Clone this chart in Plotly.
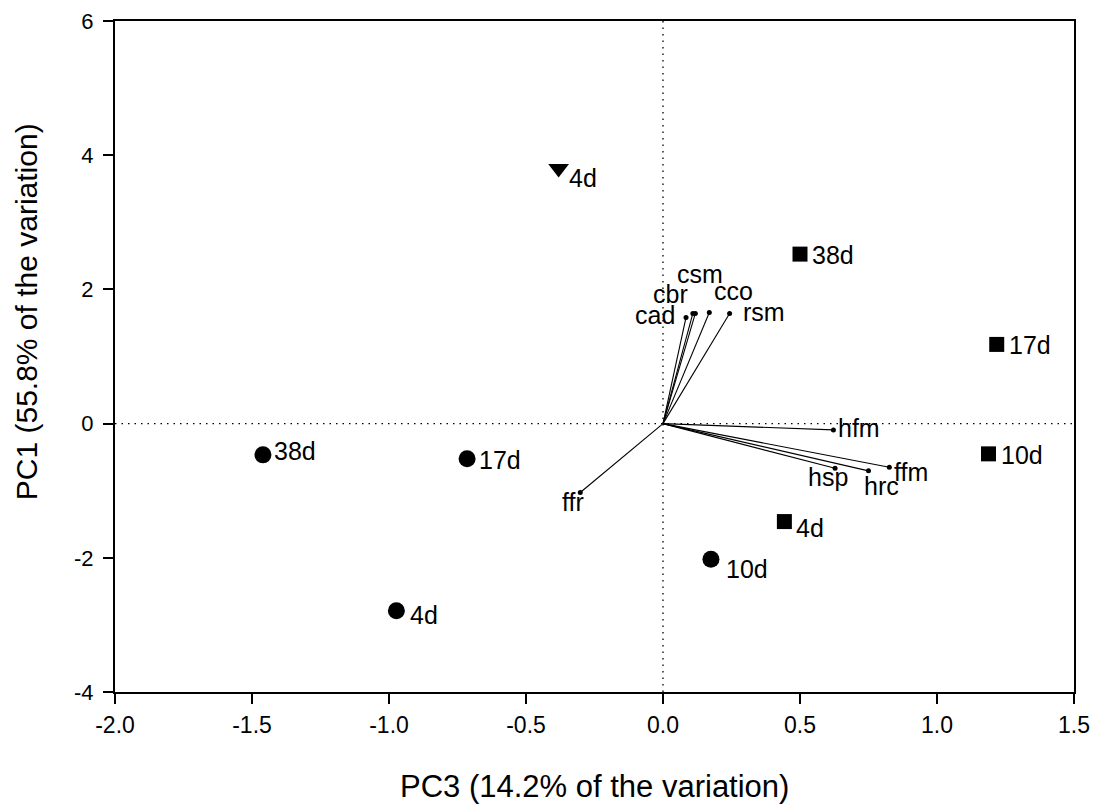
import plotly.graph_objects as go

# ---- data ----
circle_labels = ["38d", "17d", "4d", "10d"]
circle_x = [-1.460, -0.715, -0.973, 0.175]
circle_y = [-0.466, -0.525, -2.788, -2.020]

square_labels = ["38d", "17d", "10d", "4d"]
square_x = [0.500, 1.218, 1.188, 0.443]
square_y = [2.526, 1.180, -0.451, -1.46]

triangle_labels = ["4d"]
triangle_x = [-0.381]
triangle_y = [3.80]

vector_labels = ["cad", "cbr", "csm", "cco", "rsm", "hfm", "ffm", "hrc", "hsp", "ffr"]
vector_x = [0.084, 0.109, 0.118, 0.169, 0.243, 0.622, 0.826, 0.750, 0.628, -0.302]
vector_y = [1.582, 1.642, 1.642, 1.657, 1.642, -0.094, -0.651, -0.704, -0.666, -1.027]

x_ticks = [-2.0, -1.5, -1.0, -0.5, 0.0, 0.5, 1.0, 1.5]
y_ticks = [-4, -2, 0, 2, 4, 6]
x_title = "PC3 (14.2% of the variation)"
y_title = "PC1 (55.8% of the variation)"

# ---- style (label offsets in px) ----
circle_off = [(9, 4), (10, -1), (12, -4), (13, -10)]
square_off = [(10, -1), (10, -1), (10, -1), (10, -6)]
triangle_off = [(8, -9)]
vector_off = [("right", -9, 2), ("center", -22, 19), ("center", 5, 39), ("center", 24, 21),
              ("left", 11, 1), ("left", 3, 2), ("left", 3, -5), ("center", 13, -15),
              ("center", -7, -9), ("center", -7, -9)]

FONT = "Liberation Sans, Arial, sans-serif"
LBL = 25

# page has an 8px body margin: figure is inset so the plot area sits where the reference has it
W, H = 1091, 796

fig = go.Figure()

for vx, vy in zip(vector_x, vector_y):
    fig.add_trace(go.Scatter(x=[0, vx], y=[0, vy], mode="lines",
                             line=dict(color="black", width=1.1),
                             hoverinfo="skip", showlegend=False))
fig.add_trace(go.Scatter(x=vector_x, y=vector_y, mode="markers",
                         marker=dict(color="black", size=5), showlegend=False))

fig.add_trace(go.Scatter(x=circle_x, y=circle_y, mode="markers",
                         marker=dict(symbol="circle", color="black", size=17), showlegend=False))
fig.add_trace(go.Scatter(x=square_x, y=square_y, mode="markers",
                         marker=dict(symbol="square", color="black", size=15), showlegend=False))
fig.add_trace(go.Scatter(x=triangle_x, y=triangle_y, mode="markers",
                         marker=dict(symbol="triangle-down", color="black", size=18), showlegend=False))

anns = []
def add_labels(labels, xs, ys, offs):
    for t, x, y, (dx, dy) in zip(labels, xs, ys, offs):
        anns.append(dict(x=x, y=y, text=t, showarrow=False, xanchor="left", yanchor="middle",
                         xshift=dx, yshift=dy, font=dict(family=FONT, size=LBL, color="black")))

add_labels(circle_labels, circle_x, circle_y, circle_off)
add_labels(square_labels, square_x, square_y, square_off)
add_labels(triangle_labels, triangle_x, triangle_y, triangle_off)
for t, x, y, (anc, dx, dy) in zip(vector_labels, vector_x, vector_y, vector_off):
    anns.append(dict(x=x, y=y, text=t, showarrow=False, xanchor=anc, yanchor="middle",
                     xshift=dx, yshift=dy, font=dict(family=FONT, size=LBL, color="black")))

# axis titles
anns.append(dict(xref="paper", yref="paper", x=0.5, y=0, yshift=-94, text=x_title,
                 showarrow=False, xanchor="center", yanchor="middle",
                 font=dict(family=FONT, size=31, color="black")))
anns.append(dict(xref="paper", yref="paper", x=0, y=0.566, xshift=-89, text=y_title,
                 textangle=-90, showarrow=False, xanchor="center", yanchor="middle",
                 font=dict(family=FONT, size=30, color="black")))

fig.update_layout(
    width=W, height=H,
    margin=dict(l=107, r=25, t=13, b=112),
    plot_bgcolor="white", paper_bgcolor="white",
    font=dict(family=FONT, color="black", size=23),
    annotations=anns,
    shapes=[
        dict(type="line", xref="x", yref="paper", x0=0, x1=0, y0=0, y1=1,
             line=dict(color="black", width=1.3, dash="1.5px,5px"), layer="below"),
        dict(type="line", xref="paper", yref="y", x0=0, x1=1, y0=0, y1=0,
             line=dict(color="black", width=1.3, dash="1.5px,5px"), layer="below"),
    ],
)
fig.update_xaxes(range=[-2.0, 1.5], tickvals=x_ticks, ticktext=[f"{v:.1f}" for v in x_ticks],
                 showgrid=False, zeroline=False, showline=True, linecolor="black", linewidth=2,
                 mirror=True, ticks="outside", ticklen=10, tickwidth=1.5, tickcolor="black",
                 tickfont=dict(size=23), ticklabelstandoff=1, ticklabeloverflow="allow",
                 automargin=False)
fig.update_yaxes(range=[-4, 6], tickvals=y_ticks, ticktext=[str(v) for v in y_ticks],
                 showgrid=False, zeroline=False, showline=True, linecolor="black", linewidth=2,
                 mirror=True, ticks="outside", ticklen=10, tickwidth=1.5, tickcolor="black",
                 tickfont=dict(size=22), ticklabelstandoff=5, ticklabeloverflow="allow",
                 automargin=False)

fig.write_html("out.html")
